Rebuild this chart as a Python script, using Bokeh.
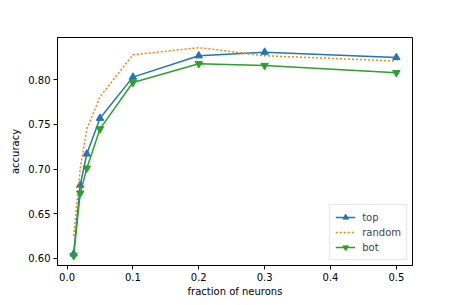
from bokeh.plotting import figure
from bokeh.models import Range1d, FixedTicker, PrintfTickFormatter, Legend, LegendItem
from bokeh.embed import file_html
from bokeh.resources import INLINE

fractions = [0.01, 0.02, 0.03, 0.05, 0.1, 0.2, 0.3, 0.5]
top = [0.605, 0.682, 0.717, 0.757, 0.803, 0.827, 0.831, 0.825]
random_acc = [0.625, 0.700, 0.745, 0.781, 0.828, 0.836, 0.827, 0.821]
bot = [0.603, 0.673, 0.701, 0.745, 0.797, 0.818, 0.816, 0.808]
x_ticks = [0.0, 0.1, 0.2, 0.3, 0.4, 0.5]
y_ticks = [0.60, 0.65, 0.70, 0.75, 0.80]

FONT = "DejaVu Sans"

p = figure(width=449, height=299, output_backend="svg", toolbar_location=None,
           x_range=Range1d(-0.0145, 0.5245), y_range=Range1d(0.592, 0.8474),
           min_border_left=57, min_border_right=37, min_border_top=37, min_border_bottom=33)
p.background_fill_color = "white"
p.border_fill_color = "white"
p.outline_line_color = "black"
p.outline_line_width = 1
p.grid.visible = False

for ax in (p.xaxis[0], p.yaxis[0]):
    ax.major_label_text_font = FONT
    ax.major_label_text_font_size = "10px"
    ax.major_label_text_color = "black"
    ax.axis_label_text_font = FONT
    ax.axis_label_text_font_size = "10px"
    ax.axis_label_text_font_style = "normal"
    ax.axis_label_text_color = "black"
    ax.minor_tick_line_color = None
    ax.major_tick_out = 4
    ax.major_tick_in = 0
    ax.axis_line_color = "black"
    ax.major_tick_line_color = "black"

p.xaxis.ticker = FixedTicker(ticks=x_ticks)
p.yaxis.ticker = FixedTicker(ticks=y_ticks)
p.xaxis.formatter = PrintfTickFormatter(format="%.1f")
p.yaxis.formatter = PrintfTickFormatter(format="%.2f")
p.xaxis.axis_label = "fraction of neurons"
p.yaxis.axis_label = "accuracy"
p.xaxis.major_label_standoff = 3
p.yaxis.major_label_standoff = 3
p.xaxis.axis_label_standoff = 2
p.yaxis.axis_label_standoff = 4

blue, orange, green = "#1f77b4", "#ff7f0e", "#2ca02c"

l1 = p.line(fractions, top, line_color=blue, line_width=1.5)
s1 = p.scatter(fractions, top, marker="triangle", size=7.5, fill_color=blue, line_color=blue)
l2 = p.line(fractions, random_acc, line_color=orange, line_width=1.5, line_dash="2 2")
l3 = p.line(fractions, bot, line_color=green, line_width=1.5)
s3 = p.scatter(fractions, bot, marker="inverted_triangle", size=7.5, fill_color=green, line_color=green)

legend = Legend(items=[
    LegendItem(label="top", renderers=[l1, s1]),
    LegendItem(label="random", renderers=[l2]),
    LegendItem(label="bot", renderers=[l3, s3]),
], location="bottom_right")
legend.label_text_font = FONT
legend.label_text_font_size = "10px"
legend.glyph_width = 20
legend.glyph_height = 14
legend.label_height = 14
legend.spacing = 1
legend.padding = 5
legend.margin = 5
legend.label_standoff = 7
legend.border_line_color = "#cccccc"
legend.border_line_width = 1
legend.background_fill_alpha = 0.8
p.add_layout(legend, "center")

open("out.html", "w").write(file_html(p, INLINE))
